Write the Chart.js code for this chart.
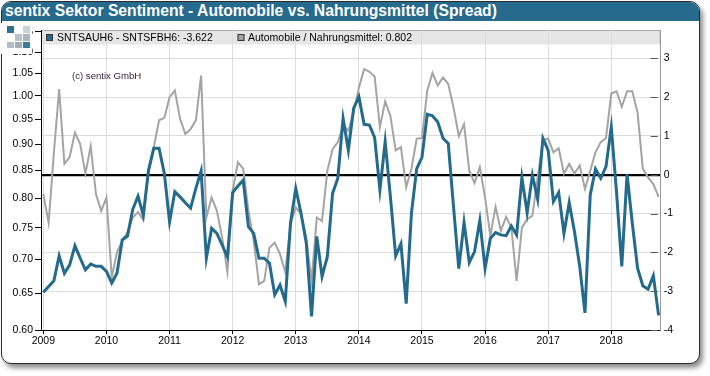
<!DOCTYPE html>
<html><head><meta charset="utf-8">
<script src="https://cdn.jsdelivr.net/npm/chart.js@4.4.1/dist/chart.umd.min.js"></script>
<style>
html,body{margin:0;padding:0;background:#fff;width:710px;height:376px;overflow:hidden;}
#frame{position:absolute;left:1px;top:1px;width:699px;height:363px;box-sizing:border-box;border:1.5px solid #2b2b2b;border-radius:10px;background:#fff;box-shadow:3px 4px 5px rgba(0,0,0,0.45);overflow:hidden;}
#titlebar{position:absolute;left:0;top:0;right:0;height:19px;background:#266a8e;}
#title{position:absolute;left:3px;top:-0.5px;color:#fff;font:bold 15.7px "Liberation Sans",Arial,sans-serif;white-space:nowrap;}
#cv{position:absolute;left:0;top:0;}
#logo{position:absolute;left:0;top:23px;width:32px;height:31px;background:#fff;}
.sq{position:absolute;width:6.5px;height:6.5px;}
</style></head>
<body>
<div id="frame"><div id="titlebar"><div id="title">sentix Sektor Sentiment - Automobile vs. Nahrungsmittel (Spread)</div></div></div>
<canvas id="cv" width="710" height="376"></canvas>
<div id="logo">
 <div class="sq" style="left:7px;top:3px;background:#2f6f96"></div>
 <div class="sq" style="left:23px;top:3px;background:#c9d1d9"></div>
 <div class="sq" style="left:15px;top:11px;background:#b9c2cb"></div>
 <div class="sq" style="left:23px;top:11px;background:#aab5c0"></div>
 <div class="sq" style="left:7px;top:18.5px;background:#b3bdc7"></div>
 <div class="sq" style="left:15px;top:18.5px;background:#a3afbb"></div>
 <div class="sq" style="left:23px;top:18.5px;background:#3a7aa0"></div>
</div>
<script>
const years = ['2009','2010','2011','2012','2013','2014','2015','2016','2017','2018'];
const months = [];
for (const y of years) for (let m = 1; m <= 12; m++) months.push(y + '-' + String(m).padStart(2,'0'));
months.length = 118;

const spread = [-3.03,-2.88,-2.73,-2.09,-2.54,-2.32,-1.83,-2.15,-2.45,-2.30,-2.36,-2.36,
-2.49,-2.79,-2.54,-1.68,-1.58,-0.89,-0.55,-1.04,0.12,0.68,0.68,0.04,
-1.21,-0.44,-0.57,-0.72,-0.86,-0.35,0.10,-2.15,-1.38,-1.51,-1.81,-2.12,
-0.46,-0.29,-0.14,-1.34,-1.51,-2.15,-2.15,-2.28,-3.09,-2.84,-3.26,-1.25,
-0.35,-0.99,-1.76,-3.65,-1.59,-2.62,-2.11,-0.48,-0.09,1.45,0.63,1.71,
2.01,1.30,1.28,0.96,-0.39,0.85,-0.57,-2.09,-1.78,-3.32,-0.99,0.16,
0.45,1.56,1.52,1.36,0.94,0.81,-0.82,-2.42,-1.23,-2.26,-1.98,-1.18,
-2.41,-1.64,-1.49,-1.55,-1.57,-1.32,-1.55,-0.07,-0.98,-0.01,-0.63,0.94,
0.63,-0.69,-0.46,-1.51,-0.72,-1.46,-2.36,-3.56,-0.52,0.15,-0.09,0.21,
1.23,-0.45,-2.36,0.02,-1.25,-2.41,-2.86,-2.95,-2.60,-3.622];

const ratio = [0.807,0.758,0.883,1.015,0.862,0.875,0.923,0.900,0.844,0.896,0.807,0.778,
0.801,0.673,0.711,0.729,0.743,0.767,0.776,0.763,0.846,0.894,0.948,0.953,
0.997,1.012,0.951,0.920,0.930,0.948,1.045,0.767,0.801,0.778,0.734,0.681,
0.813,0.865,0.853,0.778,0.729,0.663,0.668,0.718,0.726,0.708,0.681,0.756,
0.784,0.773,0.734,0.668,0.767,0.761,0.849,0.890,0.904,0.937,0.927,0.964,
1.018,1.060,1.054,1.043,0.934,0.988,0.957,0.888,0.894,0.819,0.853,0.911,
0.912,1.011,1.051,1.023,1.041,1.026,0.975,0.916,0.940,0.849,0.827,0.856,
0.801,0.737,0.785,0.745,0.768,0.750,0.668,0.750,0.764,0.770,0.837,0.907,
0.911,0.884,0.892,0.844,0.862,0.844,0.859,0.816,0.849,0.884,0.904,0.912,
1.005,1.010,0.976,1.010,1.010,0.964,0.853,0.837,0.825,0.802];

const leftTicks = [0.60,0.65,0.70,0.75,0.80,0.85,0.90,0.95,1.00,1.05,1.10,1.15];
const rightTicks = [-4,-3,-2,-1,0,1,2,3];
const seriesNames = ['SNTSAUH6 - SNTSFBH6: -3.622','Automobile / Nahrungsmittel: 0.802'];
const copyright = '(c) sentix GmbH';

const FONT = '"Liberation Sans", Arial, sans-serif';
Chart.defaults.font.family = FONT;
Chart.defaults.color = '#000';

const BLUE = '#246a8c', GRAY = '#a4a4a4';

const decor = {
  id: 'decor',
  beforeDraw(chart) {
    const c = chart.ctx, a = chart.chartArea;
    c.save();
    c.fillStyle = '#e6e6e6';
    c.fillRect(a.left + 1, a.top, a.right - a.left - 1, 14.5);
    c.strokeStyle = '#a8a8a8';
    c.lineWidth = 1;
    c.beginPath();
    c.moveTo(a.left + 1, a.top + 0.5); c.lineTo(a.right - 0.5, a.top + 0.5); c.lineTo(a.right - 0.5, a.top + 14.5);
    c.stroke();
    c.restore();
  },
  afterDraw(chart) {
    const c = chart.ctx, a = chart.chartArea;
    c.save();
    c.font = '10.5px ' + FONT;
    c.textBaseline = 'alphabetic';
    c.fillStyle = '#000';
    const items = [[46, BLUE, seriesNames[0], 57], [237.5, GRAY, seriesNames[1], 248]];
    for (const [mx, col, txt, tx] of items) {
      c.fillStyle = col;
      c.fillRect(mx, 34, 7, 7);
      c.strokeStyle = '#333';
      c.lineWidth = 1;
      c.strokeRect(mx + 0.5, 34.5, 6, 6);
      c.fillStyle = '#000';
      c.fillText(txt, tx, 41.3);
    }
    c.font = '9.6px ' + FONT;
    c.fillStyle = '#2a1f33';
    c.fillText(copyright, 72, 78.5);
    const y2 = chart.scales.y2;
    c.strokeStyle = '#555';
    c.lineWidth = 1;
    for (const v of rightTicks) {
      const py = Math.round(y2.getPixelForValue(v)) + 0.5;
      c.beginPath(); c.moveTo(a.right - 10, py); c.lineTo(a.right - 3, py); c.stroke();
    }
    c.restore();
  }
};

new Chart(document.getElementById('cv'), {
  type: 'line',
  data: {
    labels: months,
    datasets: [
      { label: seriesNames[0], data: spread.map((v, i) => ({ x: i, y: v })), yAxisID: 'y2',
        borderColor: BLUE, borderWidth: 3, pointRadius: 0, tension: 0, fill: false },
      { label: seriesNames[1], data: ratio.map((v, i) => ({ x: i, y: v })), yAxisID: 'y',
        borderColor: GRAY, borderWidth: 2, pointRadius: 0, tension: 0, fill: false }
    ]
  },
  options: {
    responsive: false, animation: false, events: [],
    layout: { padding: { left: 0, right: 0, top: 30, bottom: 0 } },
    plugins: { legend: { display: false }, tooltip: { enabled: false } },
    scales: {
      x: {
        type: 'linear', min: -0.45, max: 117.4,
        afterBuildTicks: s => { s.ticks = years.map((y, k) => ({ value: k * 12 })); },
        afterFit: s => { s.height = 46; },
        ticks: { callback: v => years[Math.round(v / 12)], font: { size: 10.5 }, color: '#000', padding: 1, maxRotation: 0, autoSkip: false },
        grid: { color: '#dcdcdc', tickColor: '#000', tickLength: 4, lineWidth: 1 },
        border: { color: '#000', width: 1 }
      },
      y: {
        type: 'logarithmic', position: 'left', min: 0.6, max: 1.1544,
        afterBuildTicks: s => { s.ticks = leftTicks.map(v => ({ value: v })); },
        afterFit: s => { s.width = 41; },
        ticks: { callback: v => Number(v).toFixed(2), font: { size: 10.5 }, color: '#000', padding: 2, autoSkip: false },
        grid: { drawOnChartArea: false, tickColor: '#000', tickLength: 6 },
        border: { color: '#000', width: 1 }
      },
      y2: {
        type: 'linear', position: 'right', min: -4, max: 3.73,
        afterBuildTicks: s => { s.ticks = rightTicks.map(v => ({ value: v })); },
        afterFit: s => { s.width = 49.3; },
        ticks: { callback: v => String(v), font: { size: 10.5 }, color: '#000', padding: 3, autoSkip: false },
        grid: { drawTicks: false,
          color: c => (c.tick && c.tick.value === 0) ? '#000' : '#dcdcdc',
          lineWidth: c => (c.tick && c.tick.value === 0) ? 2.2 : 1 },
        border: { color: '#999', width: 1 }
      }
    }
  },
  plugins: [decor]
});
</script>
</body></html>
